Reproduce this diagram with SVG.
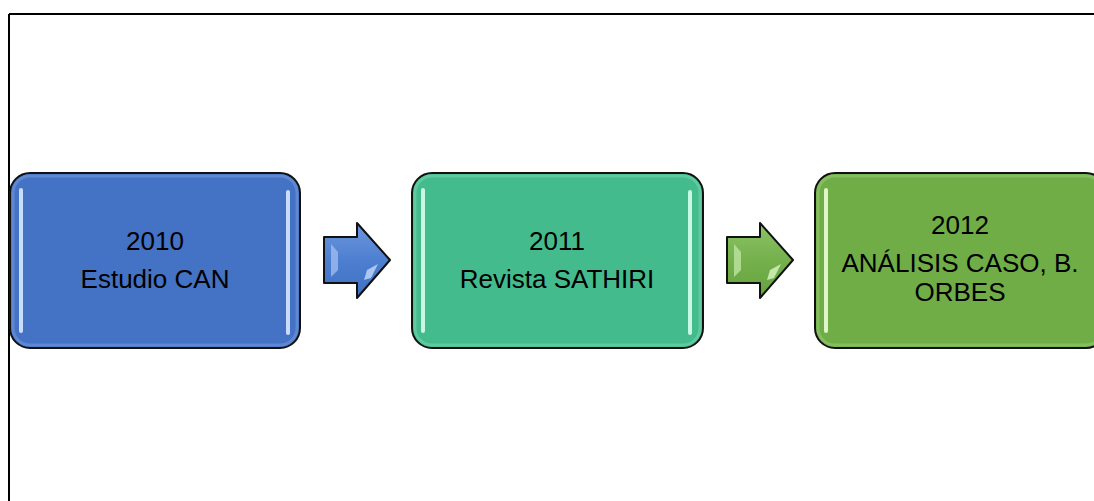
<svg xmlns="http://www.w3.org/2000/svg" width="1094" height="501" viewBox="0 0 1094 501">
<defs>
<style>
.box{stroke:#111;stroke-width:2}
.hl{stroke-width:4;stroke-linecap:round;fill:none}
.t{font-family:"Liberation Sans",Arial,sans-serif;font-size:26px;fill:#000;text-anchor:middle}
.arrow{stroke:#111;stroke-width:2;stroke-linejoin:round}
.frame{stroke:#000;stroke-width:2;fill:none}
</style>
<linearGradient id="ab" x1="0" y1="0" x2="0" y2="1">
<stop offset="0" stop-color="#6f97dd"/><stop offset="0.5" stop-color="#4d7fd0"/><stop offset="1" stop-color="#3f6fc2"/>
</linearGradient>
<linearGradient id="ag" x1="0" y1="0" x2="0" y2="1">
<stop offset="0" stop-color="#8cc466"/><stop offset="0.5" stop-color="#74b04c"/><stop offset="1" stop-color="#66a33f"/>
</linearGradient>
</defs>
<g id="frame">
<line class="frame" x1="9" y1="14" x2="1094" y2="14"/>
<line class="frame" x1="9" y1="14" x2="9" y2="501"/>
</g>
<g id="node-2010">
<rect class="box" x="10" y="173" width="290" height="175" rx="20" fill="#4472c4"/>
<rect x="13" y="176" width="284" height="169" rx="17" fill="none" stroke="#6b92da" stroke-width="3" opacity="0.7"/>
<line class="hl" x1="21" y1="190" x2="21" y2="331" stroke="#c9dcfb"/>
<line class="hl" x1="288" y1="192" x2="288" y2="333" stroke="#c9dcfb"/>
<text class="t" x="155" y="250">2010</text>
<text class="t" x="155" y="288">Estudio CAN</text>
</g>
<g id="node-2011">
<rect class="box" x="412" y="173" width="291" height="175" rx="20" fill="#44bb8c"/>
<rect x="415" y="176" width="285" height="169" rx="17" fill="none" stroke="#6ad0a8" stroke-width="3" opacity="0.7"/>
<line class="hl" x1="423" y1="190" x2="423" y2="331" stroke="#c8f7e4"/>
<line class="hl" x1="690" y1="192" x2="690" y2="333" stroke="#c8f7e4"/>
<text class="t" x="557" y="250">2011</text>
<text class="t" x="557" y="288">Revista SATHIRI</text>
</g>
<g id="node-2012">
<rect class="box" x="815" y="173" width="291" height="175" rx="20" fill="#70ad47"/>
<rect x="818" y="176" width="285" height="169" rx="17" fill="none" stroke="#8fc46a" stroke-width="3" opacity="0.7"/>
<line class="hl" x1="826" y1="190" x2="826" y2="331" stroke="#dcf5c9"/>
<text class="t" x="960" y="234">2012</text>
<text class="t" x="960" y="272">ANÁLISIS CASO, B.</text>
<text class="t" x="960" y="301">ORBES</text>
</g>
<g id="connectors">
<g id="arrow1">
<polygon class="arrow" points="324,237 357,237 357,223 390,260 357,298 357,283 324,283" fill="url(#ab)"/>
<polygon points="331,244 338,252 338,270 331,277" fill="#9ebcef" opacity="0.8"/>
<polygon points="367,270 378,264 371,278 364,280" fill="#b7cdf5" opacity="0.9"/>
</g>
<g id="arrow2">
<polygon class="arrow" points="727,237 760,237 760,223 793,260 760,298 760,283 727,283" fill="url(#ag)"/>
<polygon points="734,244 741,252 741,270 734,277" fill="#b9e19c" opacity="0.85"/>
<polygon points="770,270 781,264 774,278 767,280" fill="#cdeeb5" opacity="0.9"/>
</g>
</g>
</svg>
